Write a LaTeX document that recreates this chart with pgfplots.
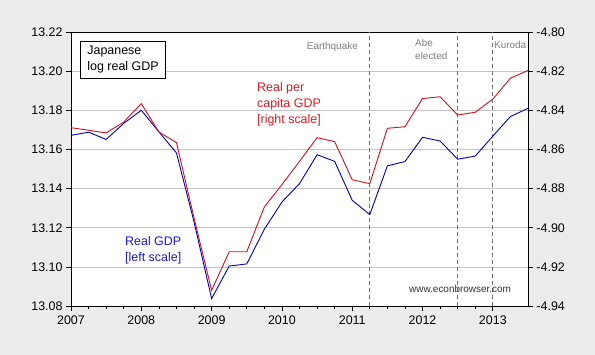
\documentclass[border=0pt]{standalone}
\usepackage{pgfplots}
\pgfplotsset{compat=1.18}
\usepackage{fontspec}
\setmainfont{Liberation Sans}
\definecolor{bgcol}{RGB}{236,236,236}
\definecolor{gridcol}{RGB}{196,196,196}
\definecolor{lblue}{RGB}{0,0,175}
\definecolor{lred}{RGB}{205,15,30}
\definecolor{tblue}{RGB}{25,25,215}
\definecolor{tred}{RGB}{225,25,35}
\definecolor{anncol}{RGB}{128,128,128}
\definecolor{vline}{RGB}{110,110,110}
\begin{document}
\begin{tikzpicture}
\path[use as bounding box, fill=bgcol] (-71bp,-49bp) rectangle (524bp,306bp);
\begin{axis}[
  at={(0,0)}, anchor=south west,
  scale only axis, width=457bp, height=274bp,
  xmin=2007, xmax=2013.5, ymin=13.08, ymax=13.22,
  xtick={2007,2008,2009,2010,2011,2012,2013},
  minor x tick num=3,
  ytick={13.08,13.10,13.12,13.14,13.16,13.18,13.20,13.22},
  xtick pos=left, ytick pos=left,
  tick align=outside,
  major tick length=5bp, minor tick length=3bp,
  tick style={black, line width=0.7bp},
  axis line style={black, line width=0.8bp},
  ymajorgrids, grid style={gridcol, line width=0.7bp},
  axis background/.style={fill=white},
  clip=false,
  /pgf/number format/assume math mode=true,
  ticklabel style={font=\fontsize{12.5}{15}\selectfont},
  xticklabel style={/pgf/number format/1000 sep={}, yshift=-1bp},
  yticklabel style={/pgf/number format/.cd, fixed, fixed zerofill, precision=2},
]
\addplot[vline, line width=0.8bp, dash pattern=on 4bp off 3bp] coordinates {(2011.25,13.08) (2011.25,13.22)};
\addplot[vline, line width=0.8bp, dash pattern=on 4bp off 3bp] coordinates {(2012.5,13.08) (2012.5,13.22)};
\addplot[vline, line width=0.8bp, dash pattern=on 4bp off 3bp] coordinates {(2013.0,13.08) (2013.0,13.22)};
\addplot[lblue, line width=0.9bp] coordinates {
(2007.00,13.1672) (2007.25,13.1688) (2007.50,13.1651) (2007.75,13.1733)
(2008.00,13.1800) (2008.25,13.1690) (2008.50,13.1582) (2008.75,13.1230)
(2009.00,13.0838) (2009.25,13.1004) (2009.50,13.1015) (2009.75,13.1192)
(2010.00,13.1331) (2010.25,13.1425) (2010.50,13.1573) (2010.75,13.1539)
(2011.00,13.1340) (2011.25,13.1267) (2011.50,13.1516) (2011.75,13.1538)
(2012.00,13.1662) (2012.25,13.1643) (2012.50,13.1550) (2012.75,13.1566)
(2013.00,13.1668) (2013.25,13.1768) (2013.50,13.1810)
};
\node[draw=black, line width=0.8bp, fill=white, anchor=north west, align=left, inner xsep=7bp, inner ysep=5bp,
  font=\fontsize{12.5}{16}\selectfont] at (axis cs:2007.128,13.2156) {Japanese\\log real GDP};
\node[anchor=north west, align=left, inner sep=0pt, text=tred, font=\fontsize{12.5}{16}\selectfont]
  at (axis cs:2009.645,13.1942) {Real per\\capita GDP\\{[right scale]}};
\node[anchor=north west, align=left, inner sep=0pt, text=tblue, font=\fontsize{12.5}{16}\selectfont]
  at (axis cs:2007.768,13.1157) {Real GDP\\{[left scale]}};
\node[anchor=north west, inner sep=0pt, text=anncol, font=\fontsize{10}{12.7}\selectfont]
  at (axis cs:2010.352,13.2149) {Earthquake};
\node[anchor=north west, align=left, inner sep=0pt, text=anncol, font=\fontsize{10}{12.7}\selectfont]
  at (axis cs:2011.893,13.2163) {Abe\\elected};
\node[anchor=north west, inner sep=0pt, text=anncol, font=\fontsize{10}{12.7}\selectfont]
  at (axis cs:2013.016,13.2156) {Kuroda};
\node[anchor=base west, inner sep=0pt, text=black!80, font=\fontsize{10}{12}\selectfont]
  at (axis cs:2011.807,13.087) {www.econbrowser.com};
\end{axis}
\begin{axis}[
  at={(0,0)}, anchor=south west,
  scale only axis, width=457bp, height=274bp,
  xmin=2007, xmax=2013.5, ymin=-4.94, ymax=-4.80,
  axis x line=none, axis y line*=right,
  ytick={-4.94,-4.92,-4.90,-4.88,-4.86,-4.84,-4.82,-4.80},
  tick align=outside,
  major tick length=5bp,
  tick style={black, line width=0.7bp},
  axis line style={black, line width=0.8bp},
  clip=false,
  /pgf/number format/assume math mode=true,
  ticklabel style={font=\fontsize{12.5}{15}\selectfont},
  yticklabel style={/pgf/number format/.cd, fixed, fixed zerofill, precision=2},
]
\addplot[lred, line width=0.9bp] coordinates {
(2007.00,-4.8489) (2007.25,-4.8502) (2007.50,-4.8516) (2007.75,-4.8460)
(2008.00,-4.8366) (2008.25,-4.8511) (2008.50,-4.8565) (2008.75,-4.8950)
(2009.00,-4.9320) (2009.25,-4.9123) (2009.50,-4.9123) (2009.75,-4.8894)
(2010.00,-4.8780) (2010.25,-4.8661) (2010.50,-4.8540) (2010.75,-4.8560)
(2011.00,-4.8755) (2011.25,-4.8775) (2011.50,-4.8492) (2011.75,-4.8484)
(2012.00,-4.8340) (2012.25,-4.8331) (2012.50,-4.8424) (2012.75,-4.8410)
(2013.00,-4.8343) (2013.25,-4.8236) (2013.50,-4.8197)
};
\end{axis}
\end{tikzpicture}
\end{document}
